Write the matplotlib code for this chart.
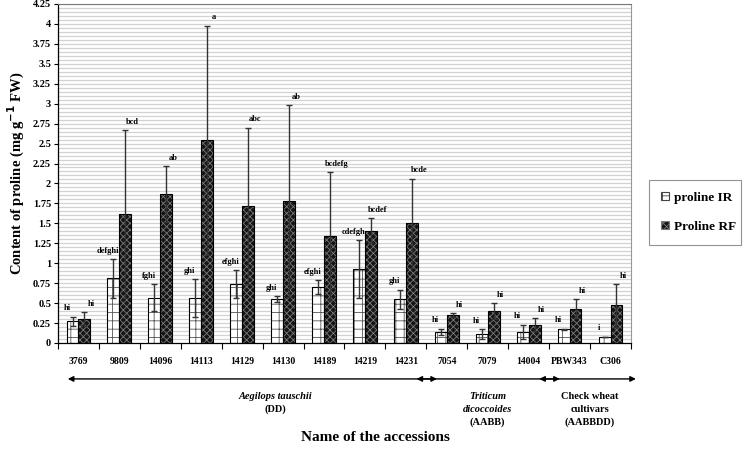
#!/usr/bin/env python3

#==============================================================================
# proline content of wheat accessions, IR vs RF
#==============================================================================

import numpy as np
import matplotlib
matplotlib.use('Agg')
import matplotlib.pyplot as plt
from matplotlib.patches import Patch

#==============================================================================
# data values
#==============================================================================

Accessions = ['3769', '9809', '14096', '14113', '14129', '14130', '14189',
              '14219', '14231', '7054', '7079', '14004', 'PBW343', 'C306']

ProlineIR    = [0.27, 0.81, 0.57, 0.56, 0.74, 0.55, 0.70, 0.93, 0.55,
                0.14, 0.11, 0.14, 0.17, 0.08]
ProlineIRErr = [0.06, 0.24, 0.17, 0.24, 0.17, 0.04, 0.09, 0.36, 0.12,
                0.04, 0.06, 0.09, 0.01, 0.00]

ProlineRF    = [0.30, 1.62, 1.87, 2.54, 1.72, 1.78, 1.34, 1.41, 1.50,
                0.35, 0.40, 0.23, 0.43, 0.47]
ProlineRFErr = [0.09, 1.05, 0.35, 1.44, 0.98, 1.20, 0.80, 0.16, 0.56,
                0.03, 0.10, 0.08, 0.12, 0.27]

LettersIR = ['hi', 'defghi', 'fghi', 'ghi', 'efghi', 'ghi', 'efghi', 'cdefgh',
             'ghi', 'hi', 'hi', 'hi', 'hi', 'i']
LettersRF = ['hi', 'bcd', 'ab', 'a', 'abc', 'ab', 'bcdefg', 'bcdef', 'bcde',
             'hi', 'hi', 'hi', 'hi', 'hi']

# groups: (first index, last index, text lines, italic line count)
Groups = [
  (0, 8,  ['Aegilops tauschii', '(DD)'], 1),
  (9, 11, ['Triticum', 'dicoccoides', '(AABB)'], 2),
  (12, 13, ['Check wheat', 'cultivars', '(AABBDD)'], 0),
]

#==============================================================================
# figure
#==============================================================================

plt.rcParams['font.family'] = ['Liberation Serif', 'DejaVu Serif']
plt.rcParams['font.weight'] = 'bold'
plt.rcParams['hatch.linewidth'] = 0.6

fig = plt.figure(figsize=(7.5, 4.51), dpi=100)
ax = fig.add_axes([0.0773, 0.2395, 0.764, 0.7517])

X = np.arange(len(Accessions))
Width = 0.29

# light horizontal stripes every 0.05
for Level in np.arange(0.05, 4.2501, 0.05):
  ax.axhline(Level, color='#d2d2d2', lw=0.9, zorder=0)

# IR bars: white with brick-like hatch
ax.bar(X - Width / 2, ProlineIR, Width, color='white', edgecolor='#555555',
       hatch='++', lw=0, zorder=2)
ax.bar(X - Width / 2, ProlineIR, Width, fill=False, edgecolor='black',
       lw=0.8, zorder=3)

# RF bars: dark with fine crosshatch
ax.bar(X + Width / 2, ProlineRF, Width, color='#151515', edgecolor='#7a7a7a',
       hatch='xxxxx', lw=0, zorder=2)
ax.bar(X + Width / 2, ProlineRF, Width, fill=False, edgecolor='black',
       lw=0.8, zorder=3)

ax.errorbar(X - Width / 2, ProlineIR, yerr=ProlineIRErr, fmt='none',
            ecolor='#333333', elinewidth=1.0, capsize=2.5, capthick=1.0, zorder=4)
ax.errorbar(X + Width / 2, ProlineRF, yerr=ProlineRFErr, fmt='none',
            ecolor='#333333', elinewidth=1.0, capsize=2.5, capthick=1.0, zorder=4)

# significance letters
for i in range(len(Accessions)):
  ax.annotate(LettersIR[i], (X[i] - Width / 2, ProlineIR[i] + ProlineIRErr[i]),
              xytext=(-4, 3), textcoords='offset points', ha='center',
              va='bottom', fontsize=6, fontweight='bold', zorder=5)
  ax.annotate(LettersRF[i], (X[i] + Width / 2, ProlineRF[i] + ProlineRFErr[i]),
              xytext=(5, 3), textcoords='offset points', ha='center',
              va='bottom', fontsize=6, fontweight='bold', zorder=5)

#==============================================================================
# axes
#==============================================================================

ax.set_xlim(-0.5, len(Accessions) - 0.5)
ax.set_ylim(0, 4.25)

YTicks = np.arange(0, 4.2501, 0.25)
ax.set_yticks(YTicks)
ax.set_yticklabels(['%g' % t for t in YTicks], fontsize=7.5, fontweight='bold')
ax.tick_params(axis='y', length=3, width=0.8, pad=2)

ax.set_xticks(X)
ax.set_xticklabels(Accessions, fontsize=7, fontweight='bold')
ax.tick_params(axis='x', length=0, pad=10)
ax.set_xticks(np.arange(-0.5, len(Accessions), 1.0), minor=True)
ax.tick_params(axis='x', which='minor', length=4, width=0.8, direction='out')

ax.spines['left'].set_linewidth(0.9)
ax.spines['bottom'].set_linewidth(0.9)
ax.spines['top'].set_color('#777777')
ax.spines['right'].set_color('#999999')

ax.set_ylabel('Content of proline (mg g$^{\\mathbf{-1}}$ FW)', fontsize=10.5,
              fontweight='bold', labelpad=4)

fig.text(0.5, 0.03, 'Name of the accessions', ha='center', va='center',
         fontsize=11, fontweight='bold')

#==============================================================================
# group arrows and names
#==============================================================================

Trans = ax.get_xaxis_transform()
ArrowY = -0.106
for First, Last, Lines, Italic in Groups:
  Left = First - 0.74
  Right = Last + 0.76
  if Last == len(Accessions) - 1:
    Right = Last + 0.62
  if First == 0:
    Left = First - 0.26
  ax.annotate('', xy=(Left, ArrowY), xytext=(Right, ArrowY), xycoords=Trans,
              textcoords=Trans, annotation_clip=False,
              arrowprops=dict(arrowstyle='<|-|>', color='black', lw=1.0,
                              mutation_scale=8, shrinkA=0, shrinkB=0))
  Mid = (First + Last) / 2.0
  if First == 0:
    Mid = 4.82
  for k, Line in enumerate(Lines):
    ax.text(Mid, -0.157 - k * 0.039, Line, transform=Trans, ha='center',
            va='center', fontsize=7.5, fontweight='bold',
            fontstyle='italic' if k < Italic else 'normal')

#==============================================================================
# legend
#==============================================================================

Handles = [
  Patch(facecolor='white', edgecolor='#444444', hatch='++', lw=0.8),
  Patch(facecolor='#151515', edgecolor='#7a7a7a', hatch='xxxxx', lw=0.8),
]
Leg = fig.legend(Handles, ['proline IR', 'Proline RF'],
                 loc='upper left', bbox_to_anchor=(0.857, 0.461, 0.14, 0.155),
                 mode='expand', fancybox=False, edgecolor='#777777',
                 prop={'weight': 'bold', 'size': 9.5}, handlelength=0.6,
                 handleheight=0.6, handletextpad=0.4, labelspacing=1.3,
                 borderpad=0.9)
Leg.get_frame().set_linewidth(0.8)

fig.savefig('out.png', dpi=100)
